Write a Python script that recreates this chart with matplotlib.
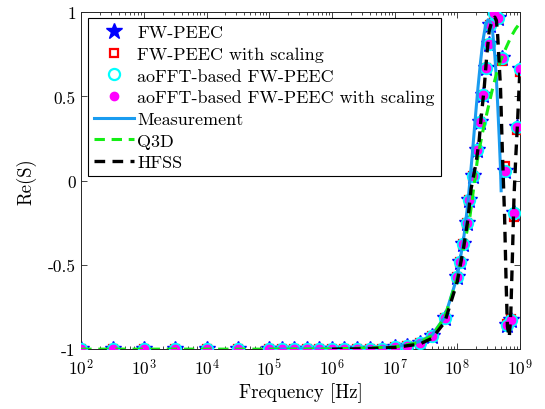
import numpy as np
import matplotlib
matplotlib.use("Agg")
import matplotlib.pyplot as plt
from matplotlib.ticker import LogLocator, FixedLocator, FixedFormatter, NullFormatter

plt.rcParams['font.family'] = ['cmr10']
plt.rcParams['mathtext.fontset'] = 'cm'
plt.rcParams['axes.formatter.use_mathtext'] = True
plt.rcParams['axes.unicode_minus'] = False

# ---- data (log10 of frequency, Re(S)) ----
sim_logf = [2, 2.5, 3, 3.5, 4, 4.5, 5, 5.2, 5.4, 5.6, 5.8, 6.0, 6.2, 6.4, 6.6, 6.8,
            7.0, 7.2, 7.4, 7.6, 7.8, 8.0, 8.05, 8.097, 8.15, 8.19, 8.246, 8.315,
            8.368, 8.41, 8.465, 8.50, 8.525, 8.59, 8.65, 8.71, 8.755, 8.80, 8.865,
            8.905, 8.96, 9.0]
fwpeec = [-1, -1, -1, -1, -1, -1, -1, -1, -1, -1, -1, -1, -1, -1, -0.999, -0.997,
          -0.99, -0.98, -0.965, -0.92, -0.815, -0.572, -0.48, -0.375, -0.25, -0.117,
          0.03, 0.184, 0.348, 0.51, 0.67, 0.81, 0.925, 0.995, 0.965, 0.725, 0.055,
          -0.855, -0.83, -0.19, 0.32, 0.665]
fwpeec_scaled = [-1, -1, -1, -1, -1, -1, -1, -1, -1, -1, -1, -1, -1, -1, -0.999, -0.997,
                 -0.99, -0.98, -0.965, -0.92, -0.815, -0.572, -0.48, -0.375, -0.25, -0.117,
                 0.03, 0.184, 0.348, 0.51, 0.67, 0.81, 0.925, 0.99, 0.96, 0.71, 0.085,
                 -0.85, -0.82, -0.215, 0.30, 0.645]
aofft = fwpeec
aofft_scaled = fwpeec

meas_logf = [5.0, 6.0, 6.5, 7.0, 7.2, 7.4, 7.6, 7.8, 8.0, 8.1, 8.13, 8.17, 8.21, 8.25,
             8.29, 8.33, 8.37, 8.41, 8.45, 8.49, 8.53, 8.565, 8.60, 8.625, 8.645, 8.67,
             8.69, 8.70]
meas = [-1, -0.998, -0.995, -0.985, -0.975, -0.955, -0.915, -0.81, -0.57, -0.35,
        -0.26, -0.13, 0.03, 0.2, 0.38, 0.55, 0.7, 0.83, 0.92, 0.955, 0.94, 0.88, 0.74,
        0.6, 0.45, 0.25, 0.07, -0.06]

q3d_logf = [2, 3, 4, 5, 6, 7.0, 7.4, 7.6, 7.8, 8.0, 8.1, 8.2, 8.32, 8.4, 8.485, 8.56,
            8.63, 8.70, 8.78, 8.86, 8.93, 9.0]
q3d = [-1, -1, -1, -1, -0.999, -0.988, -0.96, -0.92, -0.81, -0.58, -0.40, -0.22, 0.12,
       0.28, 0.42, 0.54, 0.64, 0.72, 0.79, 0.855, 0.90, 0.935]

hfss_logf = [6.0, 6.5, 7.0, 7.2, 7.4, 7.6, 7.8, 8.0, 8.1, 8.17, 8.22, 8.30, 8.35, 8.38,
             8.43, 8.47, 8.51, 8.56, 8.60, 8.625, 8.645, 8.69, 8.72, 8.755, 8.78, 8.80,
             8.83, 8.855, 8.88, 8.905, 8.935, 8.96, 8.98, 9.0]
hfss = [-1, -0.998, -0.99, -0.98, -0.97, -0.935, -0.84, -0.6, -0.4, -0.23, -0.05, 0.105,
        0.24, 0.37, 0.55, 0.74, 0.89, 0.955, 0.97, 0.95, 0.86, 0.55, 0.17, -0.21, -0.61,
        -0.865, -0.93, -0.78, -0.45, -0.1, 0.15, 0.33, 0.5, 0.66]

labels = ['FW-PEEC', 'FW-PEEC with scaling', 'aoFFT-based FW-PEEC',
          'aoFFT-based FW-PEEC with scaling', 'Measurement', 'Q3D', 'HFSS']

f_sim = 10.0 ** np.array(sim_logf)
f_meas = 10.0 ** np.array(meas_logf)
f_q3d = 10.0 ** np.array(q3d_logf)
f_hfss = 10.0 ** np.array(hfss_logf)

fig = plt.figure(figsize=(5.45, 4.10), dpi=100)
ax = fig.add_axes([0.149, 0.146, 0.805, 0.822])

ax.plot(f_sim, fwpeec, linestyle='none', marker='*', ms=12, color='#0000ff',
        mec='#0000ff', label=labels[0], zorder=2)
ax.plot(f_sim, fwpeec_scaled, linestyle='none', marker='s', ms=5.5, mfc='white',
        mec='#ff0000', mew=1.6, label=labels[1], zorder=3)
ax.plot(f_sim, aofft, linestyle='none', marker='o', ms=8, mfc='none',
        mec='#00ffff', mew=1.6, label=labels[2], zorder=4)
ax.plot(f_sim, aofft_scaled, linestyle='none', marker='o', ms=6, mfc='#ff00ff',
        mec='#ff00ff', label=labels[3], zorder=5)
ax.plot(f_meas, meas, '-', color='#1a9cf0', lw=2.2, label=labels[4], zorder=6)
ax.plot(f_q3d, q3d, '--', color='#14ee14', lw=2.2, dashes=(3.4, 2.2), label=labels[5], zorder=7)
ax.plot(f_hfss, hfss, '--', color='black', lw=2.4, dashes=(3.2, 2.2), label=labels[6], zorder=8)

ax.set_xscale('log')
ax.set_xlim(1e2, 1e9)
ax.set_ylim(-1, 1)
ax.xaxis.set_major_locator(LogLocator(base=10, numticks=20))
ax.xaxis.set_minor_locator(LogLocator(base=10, subs=np.arange(2, 10), numticks=20))
ax.xaxis.set_minor_formatter(NullFormatter())
yt = [-1, -0.5, 0, 0.5, 1]
ax.yaxis.set_major_locator(FixedLocator(yt))
ax.yaxis.set_major_formatter(FixedFormatter(['-1', '-0.5', '0', '0.5', '1']))

ax.tick_params(which='both', direction='in', top=True, right=True, labelsize=12.5,
               width=0.6, color='#262626')
ax.tick_params(which='major', length=4)
ax.tick_params(which='minor', length=2.2)
ax.tick_params(axis='x', which='major', pad=6)
ax.tick_params(axis='y', which='major', pad=4)
for s in ax.spines.values():
    s.set_linewidth(0.7)
    s.set_color('#262626')

ax.set_xlabel('Frequency [Hz]', fontsize=13.5, labelpad=3)
ax.set_ylabel('Re(S)', fontsize=13.5, labelpad=8)

leg = ax.legend(loc='upper left', bbox_to_anchor=(0.0, 1.0), borderaxespad=0.35,
                fontsize=13, numpoints=1, handlelength=2.25, handletextpad=0.15,
                labelspacing=0.33, fancybox=False, framealpha=1, edgecolor='black',
                borderpad=0.35)
leg.get_frame().set_linewidth(0.8)

fig.savefig('out.png', dpi=100)
